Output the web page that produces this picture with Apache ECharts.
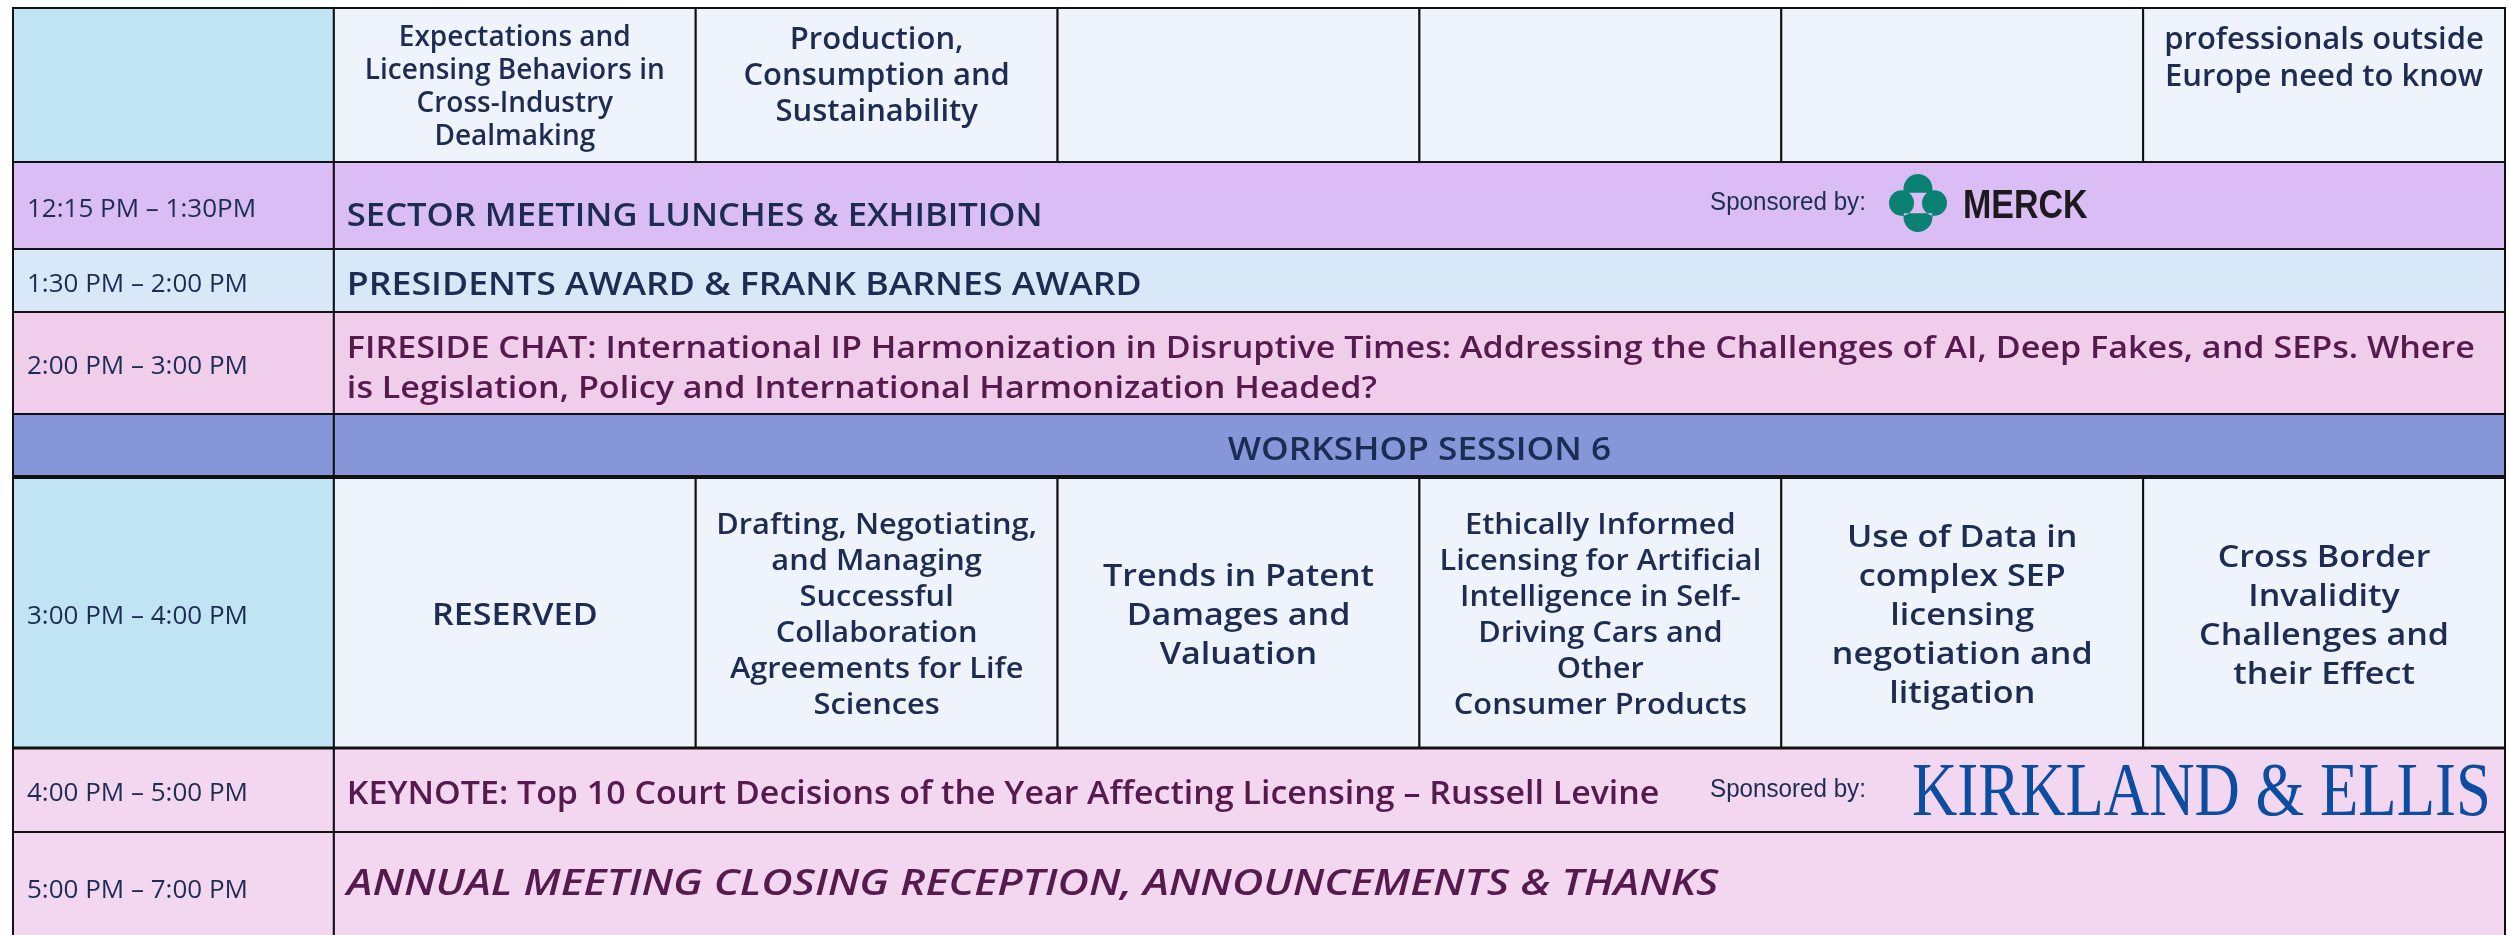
<!DOCTYPE html>
<html><head><meta charset="utf-8">
<script src="https://cdn.jsdelivr.net/npm/echarts@6/dist/echarts.min.js"></script>
<style>html,body{margin:0;padding:0;background:#fff;overflow:hidden}#c{width:2508px;height:935px}</style>
</head><body><div id="c"></div>
<script>
// ---------- DATA ----------
const timeSlots = ['', '12:15 PM – 1:30PM', '1:30 PM – 2:00 PM', '2:00 PM – 3:00 PM', '', '3:00 PM – 4:00 PM', '4:00 PM – 5:00 PM', '5:00 PM – 7:00 PM'];
const rowTitles = [
  '',
  'SECTOR MEETING LUNCHES & EXHIBITION',
  'PRESIDENTS AWARD & FRANK BARNES AWARD',
  'FIRESIDE CHAT: International IP Harmonization in Disruptive Times: Addressing the Challenges of AI, Deep Fakes, and SEPs. Where\nis Legislation, Policy and International Harmonization Headed?',
  'WORKSHOP SESSION 6',
  '',
  'KEYNOTE: Top 10 Court Decisions of the Year Affecting Licensing – Russell Levine',
  'ANNUAL MEETING CLOSING RECEPTION, ANNOUNCEMENTS & THANKS'
];
const previousSessions = [
  'Expectations and\nLicensing Behaviors in\nCross-Industry\nDealmaking',
  'Production,\nConsumption and\nSustainability',
  '', '', '',
  'professionals outside\nEurope need to know'
];
const workshopSession6 = [
  'RESERVED',
  'Drafting, Negotiating,\nand Managing\nSuccessful\nCollaboration\nAgreements for Life\nSciences',
  'Trends in Patent\nDamages and\nValuation',
  'Ethically Informed\nLicensing for Artificial\nIntelligence in Self-\nDriving Cars and\nOther\nConsumer Products',
  'Use of Data in\ncomplex SEP\nlicensing\nnegotiation and\nlitigation',
  'Cross Border\nInvalidity\nChallenges and\ntheir Effect'
];
const sponsorLabel = 'Sponsored by:';
const sponsors = ['', 'MERCK', '', '', '', '', 'KIRKLAND & ELLIS', ''];

// ---------- LAYOUT & STYLE ----------
const TIME_W = 321, SESS_W = 362, N_SESS = 6;
const ROW_H = [154, 87, 63, 102, 63, 271, 84, 110];
const SESSION_ROWS = {0: previousSessions, 5: workshopSession6};
const NAVY = '#1d2c52', PURPLE = '#561a4e';
const FONT = '"Open Sans", "Noto Sans", sans-serif';
const ROW_STYLE = [
  {time: '#c0e4f4', body: '#eff3fb'},
  {time: '#dbbdf5', body: '#dbbdf5', color: NAVY, size: 32, sx: 1.08, dy: 11},
  {time: '#d8e8f7', body: '#d8e8f7', color: NAVY, size: 32, sx: 1.115, dy: 5},
  {time: '#f1cdec', body: '#f1cdec', color: PURPLE, size: 31, sx: 1.1, lh: 40, dy: 6},
  {time: '#8696d8', body: '#8696d8', color: NAVY, size: 32, sx: 1.1, dy: 5, center: true},
  {time: '#c0e4f4', body: '#eff3fb', topLine: 4},
  {time: '#f3d7f1', body: '#f3d7f1', color: PURPLE, size: 32, sx: 1.06, dy: 5, topLine: 3},
  {time: '#f3d7f1', body: '#f3d7f1', color: PURPLE, size: 36, sx: 1.2, dy: -2, italic: true}
];
// per-cell font size, line height, horizontal scale for session rows
const SESS_FONT = {
  0: {size: [28, 31, 31, 31, 31, 31], lh: [33, 36, 36, 36, 36, 37], sx: 1.0},
  5: {size: [31, 28, 31, 28, 31, 31], lh: [39, 36, 39, 36, 39, 39], sx: 1.1}
};

// build cells
const cells = [];
let yAcc = 0;
ROW_H.forEach((h, r) => {
  cells.push([0, TIME_W, yAcc, yAcc + h, r, 0]);
  if (SESSION_ROWS[r]) {
    for (let c = 0; c < N_SESS; c++) cells.push([TIME_W + c * SESS_W, TIME_W + (c + 1) * SESS_W, yAcc, yAcc + h, r, c + 1]);
  } else {
    cells.push([TIME_W, TIME_W + N_SESS * SESS_W, yAcc, yAcc + h, r, 1]);
  }
  yAcc += h;
});

const MERCK_PATH = 'M15 19 A14.5 14.5 0 1 1 43 19 Z M15 39 A14.5 14.5 0 1 0 43 39 Z M0 29 A12.5 12.5 0 1 1 25 29 A12.5 12.5 0 1 1 0 29 Z M33 29 A12.5 12.5 0 1 1 58 29 A12.5 12.5 0 1 1 33 29 Z';

function renderItem(params, api) {
  const p0 = api.coord([api.value(0), api.value(2)]);
  const p1 = api.coord([api.value(1), api.value(3)]);
  const r = api.value(4), c = api.value(5);
  const x = p0[0], y = Math.min(p0[1], p1[1]);
  const w = p1[0] - p0[0], h = Math.abs(p1[1] - p0[1]);
  const st = ROW_STYLE[r];
  const children = [{
    type: 'rect', shape: {x: x, y: y, width: w, height: h},
    style: {fill: c === 0 ? st.time : st.body, stroke: '#111', lineWidth: 2}
  }];
  if (st.topLine) {
    children.push({type: 'line', shape: {x1: x - 1, y1: y, x2: x + w + 1, y2: y},
      style: {stroke: '#111', lineWidth: st.topLine}, z2: 5});
  }
  if (c === 0) {
    if (timeSlots[r]) children.push({
      type: 'text', x: x + 14, y: y + h / 2 + 4,
      style: {text: timeSlots[r], fill: NAVY, fontFamily: FONT, fontSize: 26, fontWeight: 400, align: 'left', verticalAlign: 'middle'}
    });
  } else if (SESSION_ROWS[r]) {
    const txt = SESSION_ROWS[r][c - 1];
    const cfg = SESS_FONT[r];
    const fs = cfg.size[c - 1], lh = cfg.lh[c - 1];
    if (txt) {
      const base = {text: txt, fill: NAVY, fontFamily: FONT, fontSize: fs, fontWeight: 600, lineHeight: lh, align: 'center'};
      if (r === 0) {
        children.push({type: 'text', x: x + w / 2, y: y + 14, scaleX: cfg.sx,
          style: Object.assign(base, {verticalAlign: 'top'})});
      } else {
        children.push({type: 'text', x: x + w / 2, y: y + h / 2 + 4, scaleX: cfg.sx,
          style: Object.assign(base, {verticalAlign: 'middle'})});
      }
    }
  } else {
    children.push({
      type: 'text', x: st.center ? x + w / 2 : x + 13, y: y + h / 2 + (st.dy || 0), scaleX: st.sx,
      style: {text: rowTitles[r], fill: st.color, fontFamily: FONT, fontSize: st.size, fontWeight: 600,
        fontStyle: st.italic ? 'italic' : 'normal', lineHeight: st.lh || st.size * 1.3,
        align: st.center ? 'center' : 'left', verticalAlign: 'middle'}
    });
    const sp = sponsors[r];
    if (sp) {
      const right = x + w;
      const cy = y + h / 2;
      children.push({type: 'text', x: right - 795, y: cy + (sp === 'MERCK' ? -3 : 0), scaleX: 0.93,
        style: {text: sponsorLabel, fill: NAVY, fontFamily: '"Liberation Sans", Arial, sans-serif', fontSize: 26, align: 'left', verticalAlign: 'middle'}});
      if (sp === 'MERCK') {
        children.push({type: 'path', shape: {pathData: MERCK_PATH, x: right - 616, y: y + 12, width: 58, height: 58, layout: 'cover'},
          style: {fill: '#0b8174'}});
        children.push({type: 'text', x: right - 542, y: cy + 1, scaleX: 0.85,
          style: {text: sp, fill: '#1c1a1c', fontFamily: '"Liberation Sans", Arial, sans-serif', fontWeight: 'bold', fontSize: 40, align: 'left', verticalAlign: 'middle'}});
      } else {
        children.push({type: 'text', x: right - 593, y: cy + 5, scaleX: 0.826,
          style: {text: sp, fill: '#0c4da2', fontFamily: '"Liberation Serif", "DejaVu Serif", serif', fontSize: 76, align: 'left', verticalAlign: 'middle'}});
      }
    }
  }
  return {type: 'group', children: children};
}

const chart = echarts.init(document.getElementById('c'), null, {renderer: 'canvas'});
chart.setOption({
  animation: false,
  backgroundColor: '#ffffff',
  grid: {left: 13, top: 8, width: 2492, height: 927},
  xAxis: {type: 'value', min: 0, max: TIME_W + N_SESS * SESS_W, show: false},
  yAxis: {type: 'value', min: 0, max: 927, inverse: true, show: false},
  series: [{
    type: 'custom', renderItem: renderItem, data: cells,
    encode: {x: [0, 1], y: [2, 3]}, clip: false, silent: true
  }]
});
</script>
</body></html>
